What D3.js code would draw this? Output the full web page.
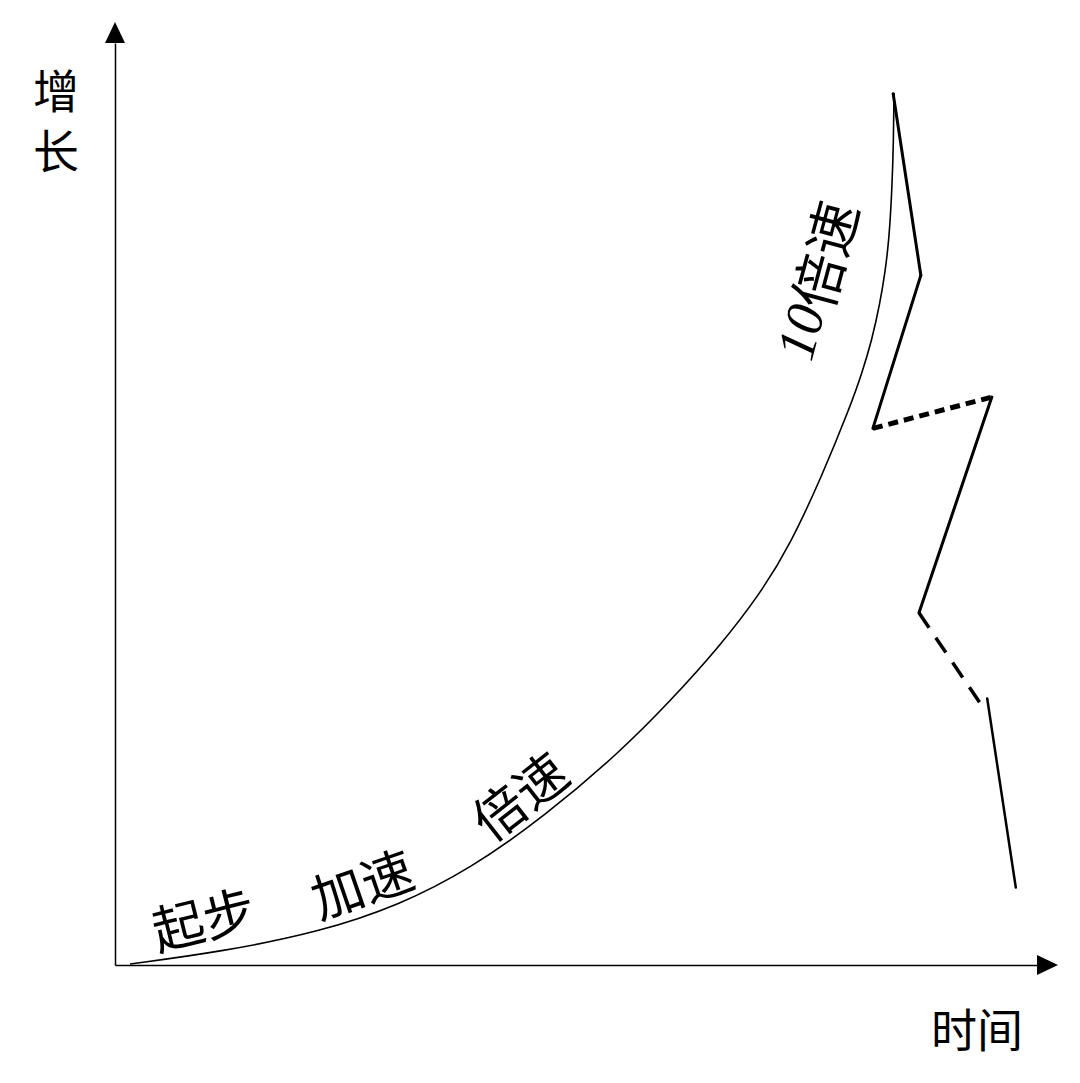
<!DOCTYPE html>
<html>
<head>
<meta charset="utf-8">
<script src="https://cdn.jsdelivr.net/npm/d3@7"></script>
<style>
  html, body { margin: 0; padding: 0; background: #fff; }
  svg { display: block; }
</style>
</head>
<body>
<svg id="chart" width="1080" height="1083"></svg>
<script>
// ---- data (time vs growth, arbitrary units 0..100) ----
const curveTime   = [1.63, 11.39, 22.23, 30.91, 38.50, 46.64, 54.77, 60.20, 65.62, 70.00, 73.21, 76.68, 79.72, 81.02, 82.10, 82.97, 83.51, 83.95, 84.27, 84.44, 84.49];
const curveGrowth = [0.11, 1.41, 3.58, 6.51, 10.41, 16.16, 23.10, 28.60, 34.60, 40.30, 45.55, 53.04, 60.52, 64.21, 67.79, 71.80, 75.05, 78.63, 84.06, 89.48, 94.58];

const zigTime   = [84.4, 87.4, 82.2, 95.1, 87.2, 94.1, 94.6, 97.7];
const zigGrowth = [94.5, 74.8, 58.2, 61.6, 38.2, 28.0, 28.9, 8.4];
const zigSegments = [[0, 1, "solid"], [1, 2, "solid"], [2, 3, "dashed"], [3, 4, "solid"], [4, 5, "dashed"], [6, 7, "solid"]];

const stageLabels = ["起步", "加速", "倍速", "10倍速"];
const stageTime   = [9.5, 26.7, 43.7, 75.9];
const stageGrowth = [5.3, 9.1, 18.6, 74.3];

const xTitle = "时间";
const yTitle = ["增", "长"];

// ---- layout / style ----
const svg = d3.select("#chart");
const x = d3.scaleLinear().domain([0, 100]).range([115, 1037]);
const y = d3.scaleLinear().domain([0, 100]).range([965, 43]);

// axes (no ticks) via d3 axes
svg.append("g").attr("transform", `translate(0,${y(0)})`)
  .call(d3.axisBottom(x).ticks(0).tickSize(0).tickSizeOuter(0))
  .call(g => g.select(".domain").attr("stroke", "#000").attr("stroke-width", 1.5));
svg.append("g").attr("transform", `translate(${x(0)},0)`)
  .call(d3.axisLeft(y).ticks(0).tickSize(0).tickSizeOuter(0))
  .call(g => g.select(".domain").attr("stroke", "#000").attr("stroke-width", 1.5));

// arrow heads
const ax = x(100), ay = y(0);
svg.append("path")
  .attr("d", `M${ax},${ay - 10}L${ax + 21},${ay}L${ax},${ay + 10}Z`)
  .attr("fill", "#000");
const bx = x(0), by = y(100);
svg.append("path")
  .attr("d", `M${bx - 10},${by}L${bx},${by - 21}L${bx + 10},${by}Z`)
  .attr("fill", "#000");

// growth curve (smoothed B-spline through the read-off points)
const curvePts = curveTime.map((t, i) => [t, curveGrowth[i]]);
svg.append("path")
  .datum(curvePts)
  .attr("d", d3.line().x(d => x(d[0])).y(d => y(d[1])).curve(d3.curveBasis))
  .attr("fill", "none")
  .attr("stroke", "#000")
  .attr("stroke-width", 1.6);

// zigzag
const segWidth = [3, 3, 5, 3, 3.5, 2.5];
svg.append("g").selectAll("line")
  .data(zigSegments)
  .join("line")
  .attr("x1", d => x(zigTime[d[0]]))
  .attr("y1", d => y(zigGrowth[d[0]]))
  .attr("x2", d => x(zigTime[d[1]]))
  .attr("y2", d => y(zigGrowth[d[1]]))
  .attr("stroke", "#000")
  .attr("stroke-width", (d, i) => segWidth[i])
  .attr("stroke-linecap", d => d[2] === "solid" ? "round" : "butt")
  .attr("stroke-dasharray", (d, i) => d[2] === "dashed" ? (i === 2 ? "10,6" : "18,12") : null);

// stage labels along the curve
const labelAngle = [-14, -19, -38, -75];
const labelSize = [52, 52, 52, 54];
const cjk = "'Noto Sans CJK SC', 'Noto Sans CJK JP', sans-serif";
const lbl = svg.append("g").selectAll("text")
  .data(stageLabels)
  .join("text")
  .attr("transform", (d, i) => `translate(${x(stageTime[i])},${y(stageGrowth[i])}) rotate(${labelAngle[i]})`)
  .attr("text-anchor", "middle")
  .attr("dominant-baseline", "central")
  .attr("font-family", cjk)
  .attr("font-size", (d, i) => labelSize[i])
  .attr("fill", "#000");
lbl.each(function(d) {
  const t = d3.select(this);
  const m = d.match(/^(\d*)(.*)$/);
  if (m[1]) {
    t.append("tspan").attr("font-family", "'Liberation Serif', 'DejaVu Serif', serif").attr("font-style", "italic").text(m[1]);
  }
  t.append("tspan").text(m[2]);
});

// axis titles
svg.append("g").selectAll("text")
  .data(yTitle)
  .join("text")
  .attr("x", 56)
  .attr("y", (d, i) => 88 + i * 60)
  .attr("text-anchor", "middle")
  .attr("dominant-baseline", "central")
  .attr("font-family", cjk)
  .attr("font-size", 46)
  .attr("fill", "#000")
  .text(d => d);

svg.append("text")
  .attr("x", 977)
  .attr("y", 1027)
  .attr("text-anchor", "middle")
  .attr("dominant-baseline", "central")
  .attr("font-family", cjk)
  .attr("font-size", 46)
  .attr("fill", "#000")
  .text(xTitle);
</script>
</body>
</html>
